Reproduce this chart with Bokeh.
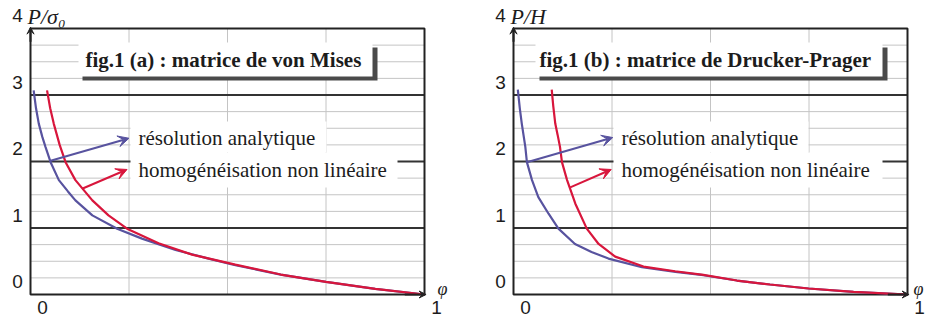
from bokeh.plotting import figure
from bokeh.layouts import row
from bokeh.models import Range1d, Label, Arrow, VeeHead
from bokeh.embed import file_html
from bokeh.resources import INLINE

# ---------------- data ----------------
# fig.1 (a) von Mises
phi_a_analytic = [0.008, 0.014, 0.021, 0.030, 0.038, 0.051, 0.072, 0.095, 0.114, 0.157,
                  0.220, 0.283, 0.368, 0.452, 0.520, 0.635, 0.750, 0.875, 1.0]
P_a_analytic = [2.82, 2.55, 2.32, 2.12, 1.97, 1.74, 1.47, 1.30, 1.165, 0.94,
                0.74, 0.59, 0.42, 0.29, 0.19, 0.05, -0.06, -0.165, -0.25]
phi_a_homog = [0.042, 0.050, 0.059, 0.074, 0.089, 0.114, 0.157, 0.198, 0.245, 0.325,
               0.410, 0.520, 0.635, 0.750, 0.875, 1.0]
P_a_homog = [2.82, 2.55, 2.32, 2.00, 1.74, 1.47, 1.165, 0.94, 0.74, 0.52,
             0.35, 0.20, 0.05, -0.06, -0.165, -0.25]

# fig.1 (b) Drucker-Prager
phi_b_analytic = [0.011, 0.016, 0.021, 0.030, 0.034, 0.047, 0.063, 0.089, 0.114, 0.156,
                  0.198, 0.241, 0.326, 0.411, 0.482, 0.567, 0.651, 0.749, 0.863, 1.0]
P_b_analytic = [2.83, 2.55, 2.32, 1.97, 1.74, 1.47, 1.215, 0.965, 0.74, 0.51,
                0.39, 0.29, 0.16, 0.09, 0.04, -0.04, -0.10, -0.16, -0.21, -0.25]
phi_b_homog = [0.097, 0.101, 0.106, 0.112, 0.118, 0.123, 0.136, 0.157, 0.186, 0.216,
               0.258, 0.330, 0.410, 0.482, 0.567, 0.651, 0.749, 0.863, 1.0]
P_b_homog = [2.83, 2.58, 2.32, 2.15, 1.97, 1.74, 1.47, 1.115, 0.74, 0.51,
             0.32, 0.17, 0.10, 0.045, -0.04, -0.10, -0.16, -0.21, -0.25]

# arrows pointing from the curves to the labels: (x0, y0, x1, y1)
arrow_a_analytic = (0.051, 1.76, 0.250, 2.10)
arrow_a_homog = (0.131, 1.34, 0.245, 1.63)
arrow_b_analytic = (0.034, 1.74, 0.252, 2.11)
arrow_b_homog = (0.144, 1.36, 0.248, 1.63)

y_ticks = [0, 1, 2, 3, 4]
x_ticks = [0, 1]
titles = ["fig.1 (a) : matrice de von Mises", "fig.1 (b) : matrice de Drucker-Prager"]
y_names = ["P/σ₀", "P/H"]
x_name = "φ"
label_analytic = "résolution analytique"
label_homog = "homogénéisation non linéaire"

BLUE = "#58539f"
RED = "#d8163c"
TEXT = "#1c1c1c"
SERIF = "Liberation Serif"
SANS = "Liberation Sans"

FW, FH = 394, 266          # size of the drawn axes box, px
X0, X1 = 0.0, 1.0
Y0, Y1 = -0.25, 3.75
H = 321


def px_x(px):  # pixel offset from box left -> data
    return X0 + px / FW * (X1 - X0)


def px_y(py):  # pixel offset from box top -> data
    return Y1 - py / FH * (Y1 - Y0)


def panel(width, box_left, box_top, phi1, P1, phi2, P2, arr1, arr2, title, yname, title_box,
          box1_right, box2_right, title_x_px, phi_offset):
    xr = Range1d(px_x(-box_left), px_x(width - box_left))
    yr = Range1d(px_y(H - box_top), px_y(-box_top))
    p = figure(width=width, height=H, x_range=xr, y_range=yr,
               x_axis_type=None, y_axis_type=None, toolbar_location=None, output_backend="svg",
               min_border=0)
    p.outline_line_color = None
    p.background_fill_color = "white"
    p.border_fill_color = "white"

    # grid: light lines every 0.25, dark lines at 0.75, 1.75, 2.75
    ys = [Y0 + 0.25 * k for k in range(1, 16)]
    dark = [y for y in ys if abs((y - 0.75) % 1.0) < 1e-9]
    light = [y for y in ys if y not in dark]
    p.segment(x0=[X0] * len(light), y0=light, x1=[X1] * len(light), y1=light,
              line_color="#c4c4c4", line_width=1)
    xs = [0.25, 0.5, 0.75]
    p.segment(x0=xs, y0=[Y0] * 3, x1=xs, y1=[Y1] * 3, line_color="#c4c4c4", line_width=1)
    p.segment(x0=[X0] * len(dark), y0=dark, x1=[X1] * len(dark), y1=dark,
              line_color="#333333", line_width=2)
    # axes box
    p.quad(left=X0, right=X1, bottom=Y0, top=Y1, fill_color=None,
           line_color="#222222", line_width=2)

    # title box with shadow (pixel layout converted to data)
    l, r, t, b = title_box
    p.quad(left=px_x(l + 4), right=px_x(r + 5), top=px_y(t + 5), bottom=px_y(b + 4),
           fill_color="#4a4a4a", line_color=None)
    p.quad(left=px_x(l), right=px_x(r), top=px_y(t), bottom=px_y(b),
           fill_color="white", line_color=None)
    # label backgrounds
    p.quad(left=px_x(100), right=px_x(box1_right), top=px_y(93), bottom=px_y(124),
           fill_color="white", line_color=None)
    p.quad(left=px_x(100), right=px_x(box2_right), top=px_y(124), bottom=px_y(159),
           fill_color="white", line_color=None)

    p.line(phi1, P1, line_color=BLUE, line_width=2.2)
    p.line(phi2, P2, line_color=RED, line_width=2.2)

    for arr, col in ((arr1, BLUE), (arr2, RED)):
        p.add_layout(Arrow(x_start=arr[0], y_start=arr[1], x_end=arr[2], y_end=arr[3],
                           line_color=col, line_width=2,
                           end=VeeHead(size=11, fill_color=col, line_color=col, line_width=1)))

    # axis arrows
    p.add_layout(Arrow(x_start=X0, y_start=Y1 - 0.2, x_end=X0, y_end=Y1 + 0.02,
                       line_color="#222222", line_width=2,
                       end=VeeHead(size=7, fill_color="#222222", line_color="#222222")))
    p.add_layout(Arrow(x_start=X1 - 0.05, y_start=Y0, x_end=X1 + 0.004, y_end=Y0,
                       line_color="#222222", line_width=2,
                       end=VeeHead(size=7, fill_color="#222222", line_color="#222222")))

    # title and curve labels
    p.add_layout(Label(x=px_x(title_x_px), y=px_y(31), text=title, text_font=SERIF,
                       text_font_style="bold", text_font_size="21px", text_color=TEXT,
                       text_baseline="middle", text_align="left"))
    p.add_layout(Label(x=px_x(108), y=px_y(109), text=label_analytic, text_font=SERIF,
                       text_font_size="21px", text_color=TEXT, text_baseline="middle"))
    p.add_layout(Label(x=px_x(108), y=px_y(141), text=label_homog, text_font=SERIF,
                       text_font_size="21px", text_color=TEXT, text_baseline="middle"))

    # tick labels (offset as in the original figure)
    for v in y_ticks:
        p.add_layout(Label(x=X0, y=v, x_offset=-13, y_offset=-4, text=str(v), text_font=SANS,
                           text_font_size="19px", text_color=TEXT, text_align="center",
                           text_baseline="middle"))
    for v in x_ticks:
        p.add_layout(Label(x=v, y=Y0, x_offset=12, y_offset=-13, text=str(v), text_font=SANS,
                           text_font_size="19px", text_color=TEXT, text_align="center",
                           text_baseline="middle"))
    p.add_layout(Label(x=X0, y=4, x_offset=-3, y_offset=-5, text=yname, text_font=SERIF,
                       text_font_style="italic", text_font_size="22px", text_color=TEXT,
                       text_align="left", text_baseline="middle"))
    p.add_layout(Label(x=X1, y=Y0, x_offset=phi_offset, y_offset=6, text=x_name, text_font=SERIF,
                       text_font_style="italic", text_font_size="18px", text_color=TEXT,
                       text_align="left", text_baseline="middle"))
    return p


p1 = panel(470, 30, 28, phi_a_analytic, P_a_analytic, phi_a_homog, P_a_homog,
           arrow_a_analytic, arrow_a_homog, titles[0], y_names[0],
           (48, 342, 14, 48), 296, 367, 55, 13)
p2 = panel(455, 43, 28, phi_b_analytic, P_b_analytic, phi_b_homog, P_b_homog,
           arrow_b_analytic, arrow_b_homog, titles[1], y_names[1],
           (22, 369, 14, 48), 295, 369, 26, 6)

layout = row(p1, p2)
open("out.html", "w").write(file_html(layout, INLINE))
